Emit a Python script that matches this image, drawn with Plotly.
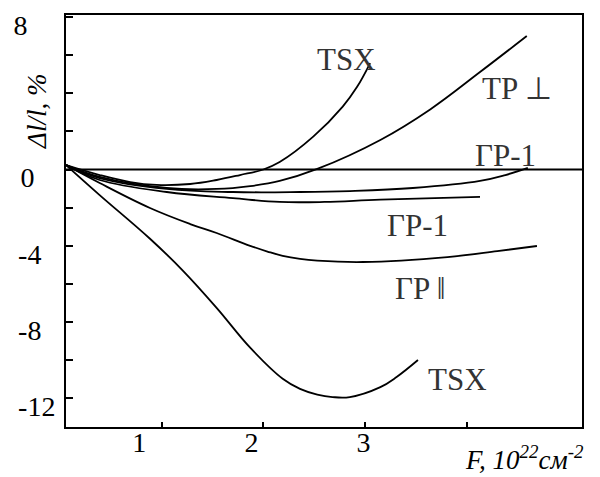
import plotly.graph_objects as go

# ---- data ----
x_tsx_top = [0.06, 0.39, 0.69, 0.95, 1.28, 1.54, 1.77, 2.00, 2.16, 2.49, 2.78, 2.92, 3.05]
y_tsx_top = [0.23, -0.29, -0.66, -0.81, -0.76, -0.55, -0.29, 0.0, 0.39, 1.72, 3.30, 4.32, 5.58]

x_tp_perp = [0.06, 0.39, 1.05, 1.54, 1.87, 2.16, 2.53, 3.15, 3.64, 4.13, 4.59]
y_tp_perp = [0.23, -0.39, -0.97, -1.02, -0.87, -0.60, 0.03, 1.55, 3.15, 5.11, 7.0]

x_gp1_a = [0.06, 0.39, 1.05, 1.70, 2.36, 2.85, 3.47, 4.13, 4.38, 4.60]
y_gp1_a = [0.23, -0.45, -1.02, -1.18, -1.18, -1.13, -0.97, -0.60, -0.29, 0.08]

x_gp1_b = [0.06, 0.39, 1.05, 1.70, 2.16, 2.60, 3.15, 4.13]
y_gp1_b = [0.23, -0.55, -1.18, -1.50, -1.70, -1.70, -1.58, -1.44]

x_gp_par = [0.06, 0.39, 0.885, 1.28, 1.54, 1.87, 2.04, 2.19, 2.36, 2.53, 2.98, 3.81, 4.30, 4.69]
y_gp_par = [0.23, -0.71, -2.02, -2.86, -3.33, -4.00, -4.30, -4.53, -4.69, -4.78, -4.85, -4.59, -4.28, -4.01]

x_tsx_bot = [0.06, 0.39, 0.885, 1.21, 1.54, 1.87, 2.19, 2.36, 2.53, 2.68, 2.85, 3.15, 3.31, 3.52]
y_tsx_bot = [0.23, -1.34, -3.63, -5.31, -7.25, -9.34, -10.97, -11.50, -11.80, -11.93, -11.93, -11.41, -10.88, -9.99]

x_range = [0.059, 5.133]
y_range = [-13.5, 8.1]

NB = "\u00a0"
x_tickvals = [1, 2, 3, 4]
x_ticktext = ["1" + NB * 3, "2", NB * 3 + "3", ""]
y_tickvals = [8, 6, 4, 2, 0, -2, -4, -6, -8, -10, -12]
y_ticktext = ["8" + NB * 4, "", "", "", "0" + NB * 3, "", "-4" + NB * 2, "", "-8" + NB * 2, "", "-12"]

labels = [
    ("TSX", 2.82, 5.79),
    ("TP \u22a5", 4.49, 4.27),
    ("\u0393P-1", 4.38, 0.76),
    ("\u0393P-1", 3.52, -2.91),
    ("\u0393P \u2016", 3.54, -6.22),
    ("TSX", 3.91, -10.99),
]

FONT = "Liberation Serif"

fig = go.Figure()

# zero reference line
fig.add_trace(go.Scatter(x=x_range, y=[0, 0], mode="lines",
                         line=dict(color="black", width=2), hoverinfo="skip"))

for xs, ys in [(x_tsx_top, y_tsx_top), (x_tp_perp, y_tp_perp), (x_gp1_a, y_gp1_a),
               (x_gp1_b, y_gp1_b), (x_gp_par, y_gp_par), (x_tsx_bot, y_tsx_bot)]:
    fig.add_trace(go.Scatter(x=xs, y=ys, mode="lines",
                             line=dict(color="black", width=1.8, shape="spline", smoothing=1.1)))

for txt, lx, ly in labels:
    fig.add_annotation(x=lx, y=ly, text=txt, showarrow=False,
                       font=dict(family=FONT, size=31, color="#333333"),
                       xanchor="center", yanchor="middle")

# axis titles
fig.add_annotation(xref="paper", yref="paper", x=0.8895, y=-0.121, xanchor="center", yanchor="bottom",
                   text="<i>F, 10<sup>22</sup>см<sup>-2</sup></i>", showarrow=False,
                   font=dict(family=FONT, size=27, color="black"))
fig.add_annotation(xref="paper", yref="paper", x=-0.056, y=0.765, xanchor="center", yanchor="middle",
                   text="<i>\u0394l/l, %</i>", textangle=-90, showarrow=False,
                   font=dict(family=FONT, size=27, color="black"))

# the page body adds an 8px margin, so the figure is sized/placed to compensate
fig.update_layout(
    width=592, height=469,
    margin=dict(l=58, r=18, t=7, b=50, autoexpand=False),
    paper_bgcolor="white", plot_bgcolor="white",
    showlegend=False,
    font=dict(family=FONT, size=28, color="black"),
)
fig.update_xaxes(range=x_range, showgrid=False, zeroline=False, automargin=False,
                 showline=True, linecolor="black", linewidth=2, mirror=True,
                 ticks="inside", ticklen=5, tickwidth=1.5, tickcolor="black",
                 tickvals=x_tickvals, ticktext=x_ticktext,
                 tickfont=dict(family=FONT, size=28, color="black"),
                 ticklabelshift=-12, ticklabelstandoff=-11)
fig.update_yaxes(range=y_range, showgrid=False, zeroline=False, automargin=False,
                 showline=True, linecolor="black", linewidth=2, mirror=True,
                 ticks="inside", ticklen=7, tickwidth=1.5, tickcolor="black",
                 tickvals=y_tickvals, ticktext=y_ticktext,
                 tickfont=dict(family=FONT, size=28, color="black"),
                 ticklabeloverflow="allow",
                 ticklabelshift=8, ticklabelstandoff=3)

fig.write_html("out.html")
